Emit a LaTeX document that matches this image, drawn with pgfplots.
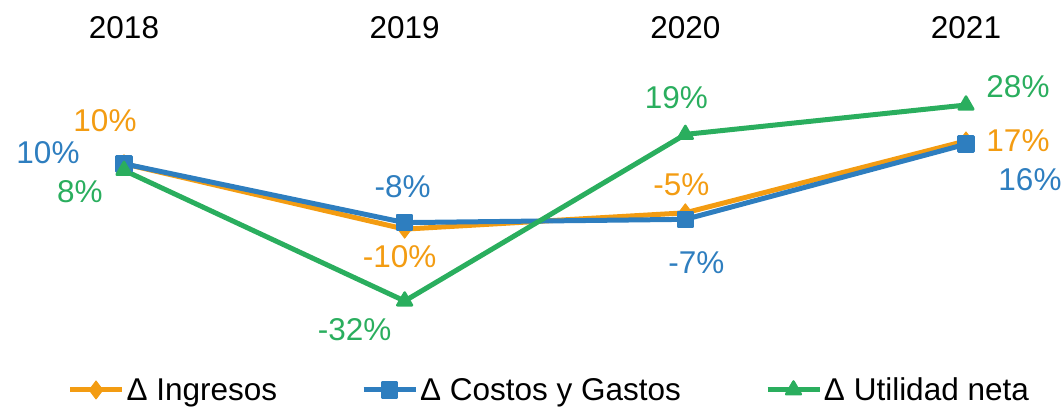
\documentclass[border=0pt]{standalone}
\usepackage{fontspec}
\setmainfont{Liberation Sans}
\usepackage{pgfplots}
\usepackage{pgfplotstable}
\pgfplotsset{compat=1.18}
\definecolor{cOr}{HTML}{F39C12}
\definecolor{cBl}{HTML}{2E7EBF}
\definecolor{cGr}{HTML}{2AAE5E}
\pgfplotstableread{
x y dx dy lab
0 10 -19 43 10
1 -10 -5 -28 -10
2 -5 -4 28 -5
3 17 52 0 17
}\ingresos
\pgfplotstableread{
x y dx dy lab
0 10 -76 11 10
1 -8 -2 36 -8
2 -7 11 -43 -7
3 16 64 -35 16
}\costos
\pgfplotstableread{
x y dx dy lab
0 8 -44 -21 8
1 -32 -50 -29 -32
2 19 -9 37 19
3 28 52 18 28
}\utilidad
\begin{document}
\begin{tikzpicture}[font=\fontsize{31.5}{36}\selectfont]
\useasboundingbox (-124pt,-107pt) rectangle (939pt,301pt);
\begin{axis}[
  scale only axis, width=842pt, height=196pt,
  xmin=0, xmax=3, ymin=-32, ymax=28,
  clip=false, enlargelimits=false,
  hide y axis,
  axis x line*=top,
  x axis line style={draw=none},
  xtick={0,1,2,3}, xticklabels={2018,2019,2020,2021},
  xtick style={draw=none},
  xticklabel style={anchor=center, yshift=77pt},
  point meta=explicit symbolic,
  nodes near coords={\pgfplotspointmeta\%},
  visualization depends on={\thisrow{dx}\as\dx},
  visualization depends on={\thisrow{dy}\as\dy},
  nodes near coords style={anchor=center, xshift=\dx pt, yshift=\dy pt},
  legend columns=3,
  legend style={draw=none, fill=none, at={(0.505,-0.454)}, anchor=center,
    /tikz/every even column/.append style={column sep=82pt},
    /tikz/every odd column/.append style={column sep=0pt},
    font=\fontsize{31.5}{36}\selectfont},
  legend image code/.code={\draw[#1, mark repeat=2, mark phase=2] plot coordinates {(0pt,0pt) (26pt,0pt) (52pt,0pt)};},
  every axis plot/.append style={line width=5pt, line join=round},
]
\addplot[color=cOr, mark=diamond*, mark size=9pt, mark options={solid, fill=cOr, line width=1pt},
  every node near coord/.append style={text=cOr}]
  table[x=x, y=y, meta=lab] {\ingresos};
\addlegendentry{Δ Ingresos}
\addplot[color=cBl, mark=square*, mark size=7.5pt, mark options={solid, fill=cBl, line width=2.5pt},
  every node near coord/.append style={text=cBl}]
  table[x=x, y=y, meta=lab] {\costos};
\addlegendentry{Δ Costos y Gastos}
\addplot[color=cGr, mark=triangle*, mark size=8.5pt, mark options={solid, fill=cGr, line width=2.5pt},
  every node near coord/.append style={text=cGr}]
  table[x=x, y=y, meta=lab] {\utilidad};
\addlegendentry{Δ Utilidad neta}
\end{axis}
\end{tikzpicture}
\end{document}
